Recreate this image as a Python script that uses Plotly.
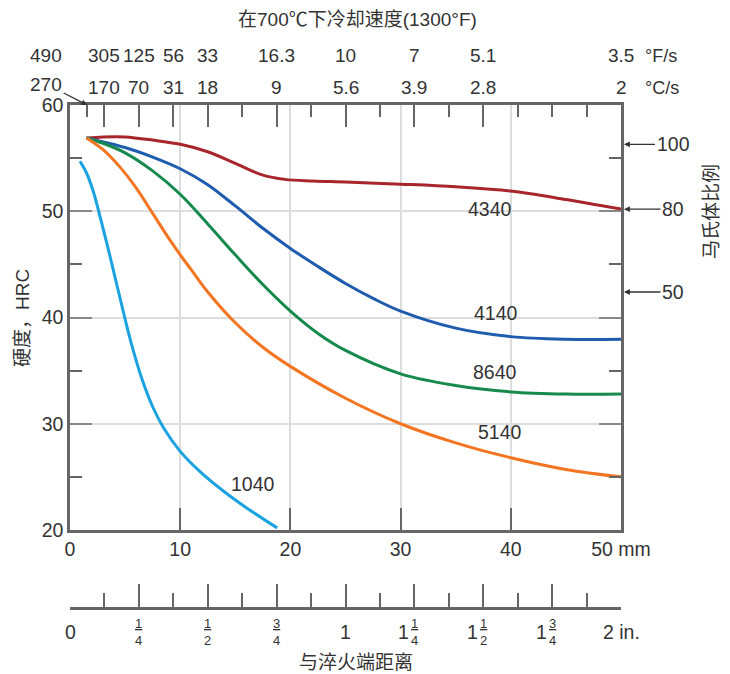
import plotly.graph_objects as go

# ---------------- data ----------------
mm_4340 = [1.5, 3, 5, 7.5, 10, 12.5, 15, 17.5, 19.5, 22, 25, 30, 35, 40, 45, 50]
hrc_4340 = [56.9, 57.0, 57.0, 56.7, 56.3, 55.6, 54.5, 53.4, 53.0, 52.85, 52.75, 52.55, 52.3, 51.9, 51.1, 50.2]

mm_4140 = [1.5, 5, 7.5, 10, 12.5, 15, 17.5, 20, 22.5, 25, 27.5, 30, 35, 40, 45, 50]
hrc_4140 = [56.9, 56.0, 55.1, 54.0, 52.5, 50.5, 48.4, 46.5, 44.8, 43.2, 41.8, 40.6, 39.0, 38.2, 37.95, 37.95]

mm_8640 = [1.5, 3, 5, 7.5, 10, 12.5, 15, 17.5, 20, 22.5, 25, 30, 35, 40, 45, 50]
hrc_8640 = [56.9, 56.4, 55.5, 53.8, 51.6, 48.8, 45.9, 43.1, 40.6, 38.5, 36.9, 34.7, 33.6, 33.0, 32.8, 32.8]

mm_5140 = [1.5, 3, 4.5, 6, 7.5, 9, 10, 11, 12.5, 15, 17.5, 20, 25, 30, 35, 40, 45, 50]
hrc_5140 = [56.9, 55.8, 54.2, 52.2, 49.8, 47.4, 45.9, 44.5, 42.4, 39.5, 37.2, 35.4, 32.4, 30.0, 28.2, 26.8, 25.7, 25.0]

mm_1040 = [0.9, 1.5, 2.1, 2.7, 3.6, 4.5, 5.5, 6.5, 7.5, 8.5, 10, 12, 14, 16, 18.8]
hrc_1040 = [54.7, 53.6, 51.9, 49.6, 45.9, 42.0, 37.8, 34.3, 31.6, 29.6, 27.4, 25.3, 23.6, 22.1, 20.2]

steels = ["4340", "4140", "8640", "5140", "1040"]
colors = ["#a8262b", "#1f5cad", "#168a4c", "#f37521", "#1aa3e0"]
series_x = [mm_4340, mm_4140, mm_8640, mm_5140, mm_1040]
series_y = [hrc_4340, hrc_4140, hrc_8640, hrc_5140, hrc_1040]
label_pos = [(38.1, 50.2), (38.7, 40.4), (38.6, 34.9), (39.0, 29.2), (16.6, 24.3)]

mm_ticks = [0, 10, 20, 30, 40, 50]
mm_ticktext = ["0", "10", "20", "30", "40", "50 mm"]
hrc_ticks = [20, 30, 40, 50, 60]

inch_ticks = [0, 0.25, 0.5, 0.75, 1, 1.25, 1.5, 1.75, 2]
inch_whole = ["0", "", "", "", "1", "1", "1", "1", "2 in."]
inch_num = ["", "1", "1", "3", "", "1", "1", "3", ""]
inch_den = ["", "4", "2", "4", "", "4", "2", "4", ""]
inch_minor = [0.125, 0.375, 0.625, 0.875, 1.125, 1.375, 1.625, 1.875]

# cooling-rate scale at top (positions in inches)
rate_pos = [None, 0.125, 0.25, 0.375, 0.5, 0.75, 1.0, 1.25, 1.5, 2.0]
rate_F = ["490", "305", "125", "56", "33", "16.3", "10", "7", "5.1", "3.5"]
rate_C = ["270", "170", "70", "31", "18", "9", "5.6", "3.9", "2.8", "2"]
first_rate_at = 0.0625
top_major = [0.125, 0.25, 0.375, 0.5, 0.75, 1.0, 1.25, 1.5]
top_minor = [0.0625, 0.625, 0.875, 1.125, 1.375, 1.625, 1.75, 1.875]

mart_pct = ["100", "80", "50"]
mart_hrc = [56.3, 50.2, 42.4]

# ---------------- figure ----------------
AX = "#666666"
TXT = "#333333"
GRID = "#dddddd"
FS = 19.5
fig = go.Figure()

for name, c, xs, ys in zip(steels, colors, series_x, series_y):
    fig.add_trace(go.Scatter(x=xs, y=ys, mode="lines", name=name,
                             line=dict(color=c, width=3, shape="spline", smoothing=1.0),
                             hoverinfo="skip"))

# helper traces for the inch axes
fig.add_trace(go.Scatter(x=[0, 2], y=[20, 20], xaxis="x2", yaxis="y", mode="markers",
                         marker=dict(opacity=0), hoverinfo="skip", showlegend=False))
fig.add_trace(go.Scatter(x=[0, 2], y=[20, 20], xaxis="x3", yaxis="y", mode="markers",
                         marker=dict(opacity=0), hoverinfo="skip", showlegend=False))

W_PLOT = 621 - 70
H_PLOT = 608 - 105
dom0 = (608 - 530) / H_PLOT


def px(xp):
    return (xp - 70) / W_PLOT


def py(yp):
    return (608 - yp) / H_PLOT


fig.update_layout(
    width=730, height=674,
    margin=dict(l=70, r=109, t=105, b=66),
    plot_bgcolor="white", paper_bgcolor="white",
    showlegend=False,
    font=dict(family="Liberation Sans, Noto Sans CJK SC", size=FS, color=TXT),
    xaxis=dict(range=[0, 50], tickmode="array", tickvals=mm_ticks, ticktext=mm_ticktext,
               ticks="inside", ticklen=22, tickwidth=2, tickcolor=AX,
               showgrid=True, gridcolor=GRID, gridwidth=1.5,
               showline=True, linecolor=AX, linewidth=2.5, mirror=True,
               zeroline=False, anchor="y", fixedrange=True),
    yaxis=dict(domain=[dom0, 1], range=[20, 60], tickmode="array", tickvals=hrc_ticks,
               ticks="inside", ticklen=22, tickwidth=2, tickcolor="#888888",
               minor=dict(ticks="inside", dtick=5, tick0=0, ticklen=12, tickwidth=2,
                          tickcolor=AX, showgrid=False),
               showgrid=True, gridcolor=GRID, gridwidth=1.5,
               showline=True, linecolor=AX, linewidth=2.5, mirror="ticks",
               zeroline=False, fixedrange=True),
    xaxis2=dict(range=[0, 2], overlaying="x", anchor="free", position=0, side="bottom",
                tickmode="array", tickvals=inch_ticks, showticklabels=False,
                ticks="inside", ticklen=23, tickwidth=2, tickcolor=AX,
                minor=dict(ticks="inside", tickmode="array", tickvals=inch_minor,
                           ticklen=14, tickwidth=2, tickcolor=AX, showgrid=False),
                showgrid=False, showline=True, linecolor=AX, linewidth=2.5,
                zeroline=False, fixedrange=True),
    xaxis3=dict(range=[0, 2], overlaying="x", anchor="y", side="top",
                tickmode="array", tickvals=top_major, showticklabels=False,
                ticks="inside", ticklen=22, tickwidth=2, tickcolor=AX,
                minor=dict(ticks="inside", tickmode="array", tickvals=top_minor,
                           ticklen=12, tickwidth=2, tickcolor=AX, showgrid=False),
                showgrid=False, showline=True, linecolor=AX, linewidth=2.5,
                zeroline=False, fixedrange=True),
)

ann = []


def add(**kw):
    kw.setdefault("showarrow", False)
    kw.setdefault("xanchor", "center")
    kw.setdefault("yanchor", "middle")
    kw.setdefault("font", dict(size=FS, color=TXT))
    ann.append(kw)


# curve labels
for name, (lx, ly) in zip(steels, label_pos):
    add(x=lx, y=ly, xref="x", yref="y", text=name)

# cooling-rate labels
yF = py(56)
yC = py(88)
RF = dict(size=19, color=TXT)
for p, f, c in zip(rate_pos, rate_F, rate_C):
    if p is None:
        add(x=px(46), y=yF, xref="paper", yref="paper", text=f, font=RF)
        add(x=first_rate_at, y=1, xref="x3", yref="paper", text=c, showarrow=True,
            ax=-41, ay=-21, arrowhead=2, arrowsize=0.9, arrowwidth=1.3, arrowcolor=TXT,
            font=RF)
    else:
        add(x=p, y=yF, xref="x3", yref="paper", text=f, font=RF)
        add(x=p, y=yC, xref="x3", yref="paper", text=c, font=RF)
add(x=px(643), y=yF, xref="paper", yref="paper", text="°F/s", xanchor="left",
    font=dict(size=18, color=TXT))
add(x=px(643), y=yC, xref="paper", yref="paper", text="°C/s", xanchor="left",
    font=dict(size=18, color=TXT))

# inch scale labels
yI = py(632)
for t, w, n, d in zip(inch_ticks, inch_whole, inch_num, inch_den):
    if n:
        add(x=t, y=yI, xref="x2", yref="paper", text="<u>" + n + "</u><br>" + d,
            font=dict(size=13, color=TXT))
        if w:
            add(x=t, y=yI, xref="x2", yref="paper", text=w, xshift=-11)
    else:
        add(x=t, y=yI, xref="x2", yref="paper", text=w)

# martensite arrows
for t, h in zip(mart_pct, mart_hrc):
    add(x=50, y=h, xref="x", yref="y", text=t, showarrow=True,
        ax=52, ay=0, arrowhead=2, arrowsize=0.9, arrowwidth=1.3,
        arrowcolor=TXT, standoff=3)

# titles
TF = dict(size=19, color=TXT)
add(x=px(357), y=py(20), xref="paper", yref="paper",
    text="在700℃下冷却速度(1300°F)", font=TF)
add(x=px(356), y=py(662), xref="paper", yref="paper", text="与淬火端距离", font=TF)
add(x=px(22), y=py(318), xref="paper", yref="paper",
    text="硬度，HRC", textangle=-90, font=TF)
add(x=px(711), y=py(212), xref="paper", yref="paper",
    text="马氏体比例", textangle=-90, font=TF)

fig.update_layout(annotations=ann)
fig.write_html("out.html", post_script="document.body.style.margin='0';",
               config={"displayModeBar": False})
